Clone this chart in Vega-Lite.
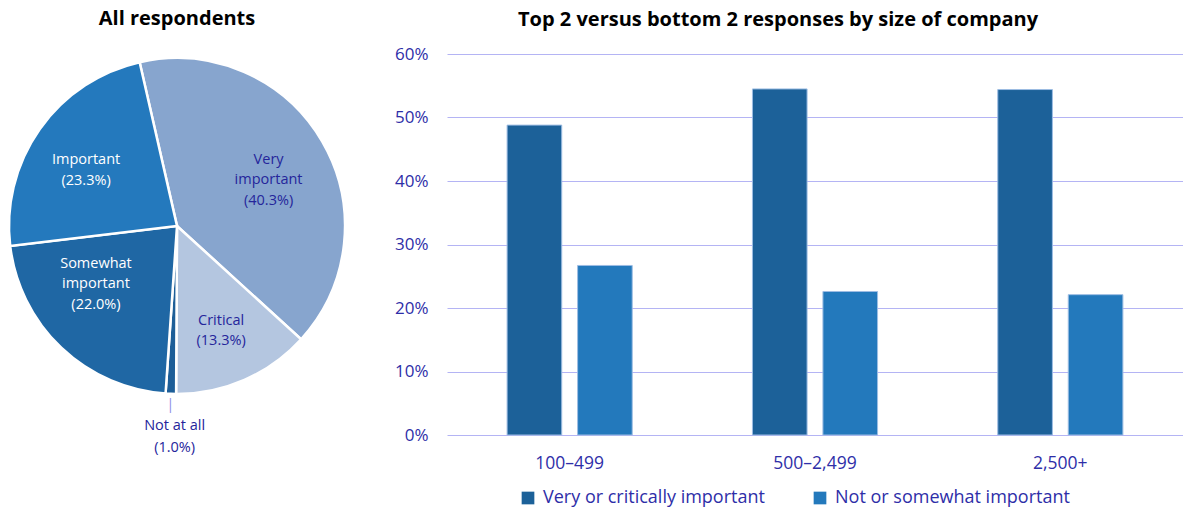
{
  "$schema": "https://vega.github.io/schema/vega-lite/v6.json",
  "padding": {"top": 9, "left": 0, "right": 0, "bottom": 0},
  "background": "white",
  "config": {
    "font": "Open Sans",
    "view": {"stroke": null},
    "concat": {"spacing": 39},
    "title": {"fontSize": 20, "fontWeight": "bold", "color": "#000000", "font": "Open Sans"}
  },
  "resolve": {"scale": {"color": "independent", "theta": "independent"}, "legend": {"color": "independent"}},
  "hconcat": [
    {
      "title": {"text": "All respondents", "offset": 24},
      "width": 354,
      "height": 344,
      "data": {"values": [
        {"cat": "Very important", "value": 40.3, "ord": 1, "label": "Very\nimportant\n(40.3%)"},
        {"cat": "Critical", "value": 13.3, "ord": 2, "label": "Critical\n(13.3%)"},
        {"cat": "Not at all", "value": 1.0, "ord": 3, "label": "Not at all\n(1.0%)"},
        {"cat": "Somewhat important", "value": 22.0, "ord": 4, "label": "Somewhat\nimportant\n(22.0%)"},
        {"cat": "Important", "value": 23.3, "ord": 5, "label": "Important\n(23.3%)"}
      ]},
      "encoding": {
        "theta": {"field": "value", "type": "quantitative", "stack": true, "scale": {"range": [-0.2243, 6.0589]}},
        "order": {"field": "ord", "type": "quantitative"}
      },
      "layer": [
        {
          "mark": {"type": "arc", "outerRadius": 168, "stroke": "white", "strokeWidth": 2.5},
          "encoding": {
            "color": {"field": "cat", "type": "nominal",
              "scale": {"domain": ["Very important", "Critical", "Not at all", "Somewhat important", "Important"],
                        "range": ["#87A5CE", "#B4C6E0", "#1D5E98", "#1F67A4", "#2479BD"]},
              "legend": null}
          }
        },
        {
          "mark": {"type": "text", "radius": 106, "fontSize": 14.5, "lineBreak": "\n", "lineHeight": 20.5, "dy": -13, "color": "#25259B"},
          "encoding": {
            "text": {"condition": {"test": "datum.cat === 'Very important'", "field": "label"}, "value": ""}
          }
        },
        {
          "mark": {"type": "text", "radius": 106, "fontSize": 14.5, "lineBreak": "\n", "lineHeight": 20.5, "dx": -8, "dy": -39, "color": "#FFFFFF"},
          "encoding": {
            "text": {"condition": {"test": "datum.cat === 'Somewhat important'", "field": "label"}, "value": ""}
          }
        },
        {
          "mark": {"type": "text", "radius": 110, "fontSize": 14.5, "lineBreak": "\n", "lineHeight": 21, "dx": -1, "dy": -3, "color": "#FFFFFF"},
          "encoding": {
            "text": {"condition": {"test": "datum.cat === 'Important'", "field": "label"}, "value": ""}
          }
        },
        {
          "mark": {"type": "text", "radius": 110, "fontSize": 14.5, "lineBreak": "\n", "lineHeight": 20.5, "dy": -6, "color": "#25259B"},
          "encoding": {
            "text": {"condition": {"test": "datum.cat === 'Critical'", "field": "label"}, "value": ""}
          }
        },
        {
          "mark": {"type": "text", "radius": 200, "fontSize": 14.5, "lineBreak": "\n", "lineHeight": 22, "dx": 5, "color": "#25259B"},
          "encoding": {
            "text": {"condition": {"test": "datum.cat === 'Not at all'", "field": "label"}, "value": ""}
          }
        },
        {
          "mark": {"type": "text", "radius": 179, "fontSize": 14, "color": "#8C8CE6"},
          "encoding": {
            "text": {"condition": {"test": "datum.cat === 'Not at all'", "value": "|"}, "value": ""}
          }
        }
      ]
    },
    {
      "title": {"text": "Top 2 versus bottom 2 responses by size of company", "anchor": "middle", "frame": "group", "dx": -37, "offset": 15},
      "width": 736,
      "height": 381,
      "data": {"values": [
        {"size": "100–499", "group": "Very or critically important", "value": 0.488},
        {"size": "100–499", "group": "Not or somewhat important", "value": 0.267},
        {"size": "500–2,499", "group": "Very or critically important", "value": 0.545},
        {"size": "500–2,499", "group": "Not or somewhat important", "value": 0.226},
        {"size": "2,500+", "group": "Very or critically important", "value": 0.544},
        {"size": "2,500+", "group": "Not or somewhat important", "value": 0.221}
      ]},
      "mark": {"type": "bar", "stroke": "#9DBDE3", "strokeWidth": 1},
      "encoding": {
        "x": {"field": "size", "type": "nominal", "sort": ["100–499", "500–2,499", "2,500+"],
          "scale": {"paddingInner": 0.49, "paddingOuter": 0.245},
          "axis": {"title": null, "labelAngle": 0, "labelFontSize": 17.5, "labelColor": "#2E2EA8", "ticks": false, "domain": false, "labelPadding": 19}},
        "xOffset": {"field": "group", "type": "nominal", "sort": ["Very or critically important", "Not or somewhat important"],
          "scale": {"paddingInner": 0.225, "paddingOuter": 0}},
        "y": {"field": "value", "type": "quantitative", "scale": {"domain": [0, 0.6]},
          "axis": {"title": null, "format": ".0%", "values": [0, 0.1, 0.2, 0.3, 0.4, 0.5, 0.6], "labelFontSize": 17, "labelColor": "#2E2EA8",
                   "ticks": false, "domain": false, "labelPadding": 19, "gridColor": "#B4B4F4", "gridWidth": 1, "gridOpacity": 1}},
        "color": {"field": "group", "type": "nominal",
          "scale": {"domain": ["Very or critically important", "Not or somewhat important"], "range": ["#1C6199", "#2379BC"]},
          "legend": {"title": null, "orient": "none", "legendX": 72, "legendY": 435, "direction": "horizontal", "padding": 0,
                     "symbolType": "square", "symbolSize": 161, "symbolStrokeWidth": 0, "labelFontSize": 18, "labelColor": "#2E2EA8",
                     "columnPadding": 46, "labelLimit": 400, "labelOffset": 6}}
      }
    }
  ]
}
